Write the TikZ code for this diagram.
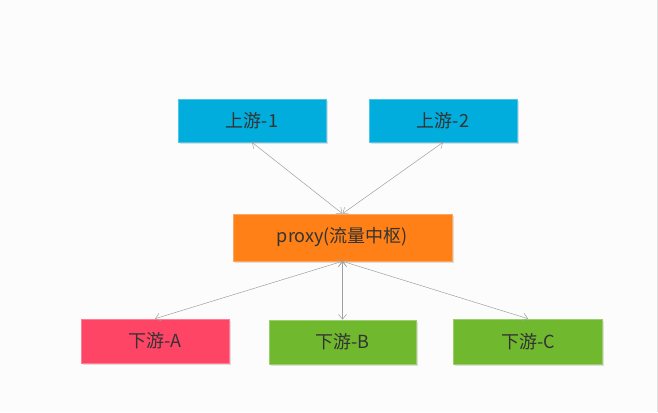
\documentclass[tikz,border=0pt]{standalone}
\usepackage{fontspec}
\setmainfont{Noto Sans CJK SC}
\usetikzlibrary{arrows.meta,shadows}

\definecolor{upblue}{RGB}{0,173,221}
\definecolor{hubor}{RGB}{255,128,22}
\definecolor{downred}{RGB}{255,69,102}
\definecolor{downgreen}{RGB}{112,185,46}
\definecolor{txt}{RGB}{51,51,51}
\definecolor{link}{RGB}{160,160,160}

\tikzset{
  svcbox/.style={draw=#1!70!white, fill=#1, line width=0.6pt,
    inner sep=0pt, text=txt, font=\fontsize{18}{20}\selectfont,
    drop shadow={shadow xshift=1.5pt, shadow yshift=-1.5pt,
      fill=black, opacity=0.12}},
  link/.style={draw=link, line width=0.5pt,
    {Straight Barb[length=5pt,width=8pt]}-{Straight Barb[length=5pt,width=8pt]}}
}

\begin{document}
\begin{tikzpicture}[x=1pt,y=-1pt]
  % canvas
  \fill[white!99!black] (0,0) rectangle (658,412);
  \useasboundingbox (0,0) rectangle (658,412);
  \draw[black!12, line width=0.8pt] (657.2,0) -- (657.2,412);

  % upstream services
  \node[svcbox=upblue, minimum width=148pt, minimum height=43pt] (up1) at (252,120.5) {上游-1};
  \node[svcbox=upblue, minimum width=148pt, minimum height=43pt] (up2) at (443,120.5) {上游-2};

  % hub
  \node[svcbox=hubor, minimum width=219pt, minimum height=47pt] (proxy) at (342.5,237.5) {proxy(流量中枢)};

  % downstream services
  \node[svcbox=downred, minimum width=148pt, minimum height=44pt] (dA) at (155,341) {下游-A};
  \node[svcbox=downgreen, minimum width=147pt, minimum height=44pt] (dB) at (342.5,342) {下游-B};
  \node[svcbox=downgreen, minimum width=149pt, minimum height=45pt] (dC) at (528,341.5) {下游-C};

  % connections
  \draw[link] (up1.south) -- (proxy.north);
  \draw[link] (up2.south) -- (proxy.north);
  \draw[link] (proxy.south) -- (dA.north);
  \draw[link] (proxy.south) -- (dB.north);
  \draw[link] (proxy.south) -- (dC.north);
\end{tikzpicture}
\end{document}
